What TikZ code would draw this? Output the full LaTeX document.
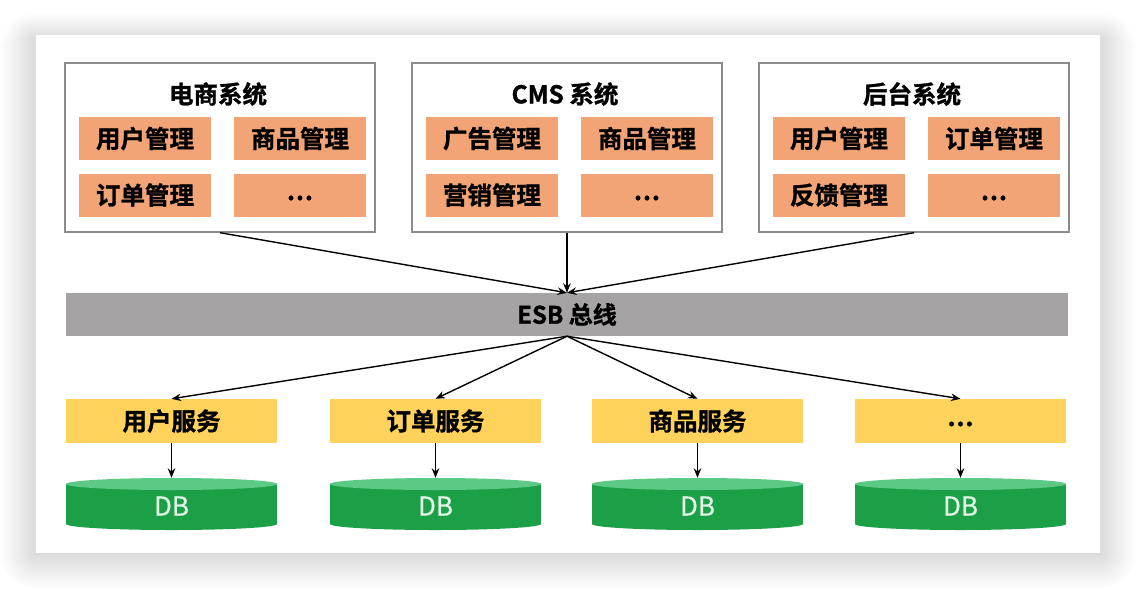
\documentclass[tikz,border=0pt]{standalone}
\usepackage{fontspec}
\setmainfont{Noto Sans CJK SC}[BoldFont={Noto Sans CJK SC Bold},BoldFeatures={FakeBold=1.2}]
\usetikzlibrary{arrows.meta}
\newcommand\mythreedots{\smash{\raisebox{-5pt}{.\kern1pt.\kern1pt.}}}
\definecolor{orangebox}{HTML}{F2A477}
\definecolor{yellowbox}{HTML}{FFD25B}
\definecolor{esbgrey}{HTML}{A5A3A4}
\definecolor{dbbody}{HTML}{1BA048}
\definecolor{dbtop}{HTML}{5CC984}
\definecolor{dbtext}{HTML}{E3F7E6}
\definecolor{frame}{HTML}{8C8C8C}
\tikzset{
  sysbox/.style={draw=frame, line width=1.4pt, fill=white, minimum width=310pt, minimum height=169pt, inner sep=0pt},
  modbox/.style={fill=orangebox, minimum width=132pt, minimum height=43pt, inner sep=0pt, font=\fontsize{24.5}{28}\selectfont\bfseries},
  titletext/.style={inner sep=0pt, font=\fontsize{24.5}{28}\selectfont\bfseries},
  svcbox/.style={fill=yellowbox, minimum width=211pt, minimum height=44pt, inner sep=0pt, font=\fontsize{24.5}{28}\selectfont\bfseries},
  esbbar/.style={fill=esbgrey, minimum width=1002pt, minimum height=43pt, inner sep=0pt, font=\fontsize{24}{28}\selectfont\bfseries},
  dbnode/.style={minimum width=211pt, minimum height=56pt, inner sep=0pt, text=dbtext, font=\fontsize{26}{30}\selectfont\addfontfeature{FakeBold=0.6}},
  conn/.style={line width=1.4pt, -{Stealth[length=9.5pt,width=7.5pt]}},
}
\begin{document}
\begin{tikzpicture}[x=1pt,y=-1pt]
\useasboundingbox (0,0) rectangle (1136,590);
\fill[white] (0,0) rectangle (1136,590);
% soft shadow
\foreach \i in {1,...,36}{
  \fill[black,opacity=0.0055,rounded corners=\i pt] (36-\i,40-0.75*\i) rectangle (1100+\i,553+\i);
}
\fill[white] (36,35) rectangle (1100,553);

% top systems
\foreach \c/\n/\t/\a/\b/\cc in {220/s1/电商系统/用户管理/商品管理/订单管理, 567/s2/CMS 系统/广告管理/商品管理/营销管理, 914/s3/后台系统/用户管理/订单管理/反馈管理}{
  \node[sysbox] (\n) at (\c,147.5) {};
  \node[titletext] (\n t) at (\c-2,94) {\t};
  \node[modbox] (\n a) at (\c-75,138.5) {\a};
  \node[modbox] (\n b) at (\c+80,138.5) {\b};
  \node[modbox] (\n c) at (\c-75,195) {\cc};
  \node[modbox] (\n d) at (\c+80,195) {\mythreedots};
}

% ESB
\node[esbbar] (esb) at (567,314.5) {ESB 总线};

\foreach \n in {s1,s2,s3}{
  \draw[conn] (\n.south) -- (esb.north);
}

% services and DB
\foreach \x/\n/\t in {171.5/v1/用户服务, 435.5/v2/订单服务, 697.5/v3/商品服务, 960.5/v4/\mythreedots}{
  \node[svcbox] (\n) at (\x,421) {\t};
  \fill[dbbody] (\x-105.5,484) rectangle (\x+105.5,524);
  \fill[dbbody] (\x,524) ellipse [x radius=105.5pt, y radius=6pt];
  \fill[dbtop] (\x,484) ellipse [x radius=105.5pt, y radius=6pt];
  \node[dbnode] (\n db) at (\x,506) {DB};
  \draw[conn] (esb.south) -- (\n.north);
  \draw[conn] (\n.south) -- (\n db.north);
}
\end{tikzpicture}
\end{document}
